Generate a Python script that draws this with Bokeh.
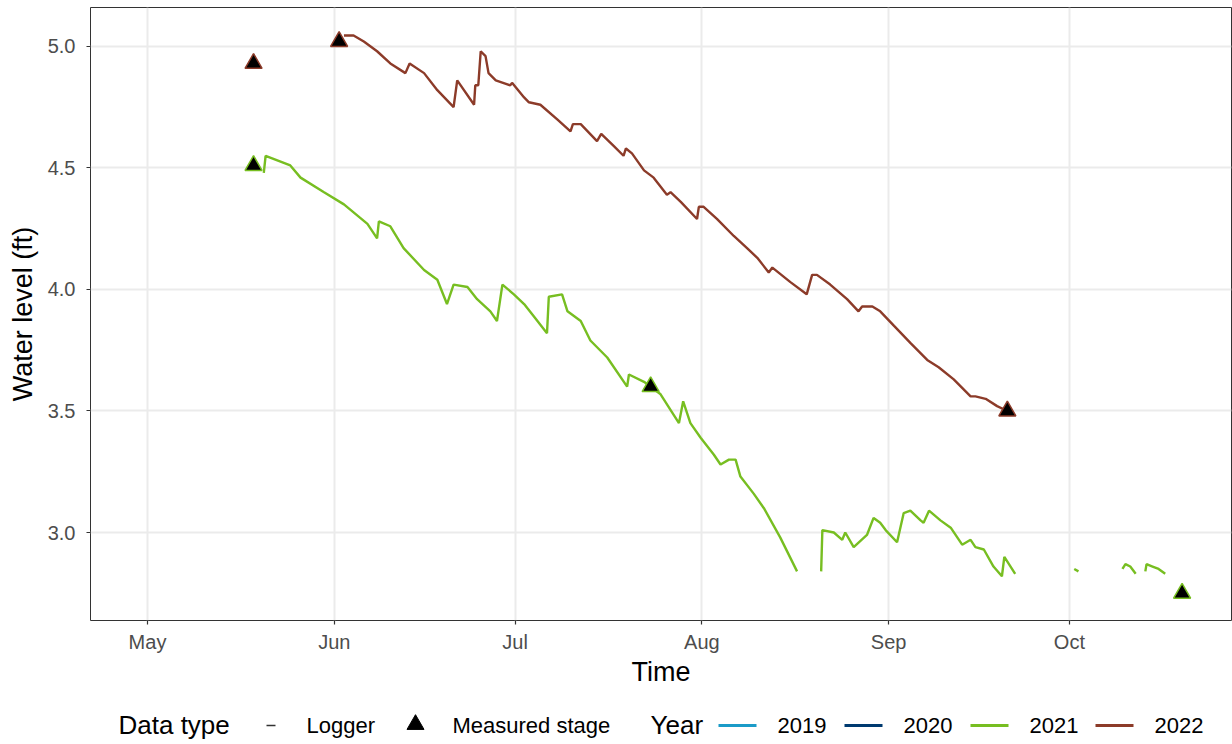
import math
import pandas as pd
from bokeh.plotting import figure
from bokeh.layouts import column
from bokeh.models import ColumnDataSource, FixedTicker, DatetimeTickFormatter, Range1d
from bokeh.core.properties import value
from bokeh.embed import file_html
from bokeh.resources import INLINE

NaN = float("nan")
BASE = pd.Timestamp("2022-05-01")  # common axis year; x = days after 1 May

# ---------------- data ----------------
logger_2021_days = [19.3, 19.6, 23.7, 25.4, 29.3, 32.6, 36.5, 38.1, 38.4, 40.3, 42.5, 45.9, 48.1, 49.7,
                    50.8, 53.1, 54.7, 56.9, 58.0, 58.9, 60.8, 62.5, 64.1, 66.3, 66.6, 68.8, 69.7, 71.9,
                    73.5, 76.3, 79.6, 79.9, 82.4, 83.5, 85.1, 88.2, 88.9, 90.1, 91.8, 94.0, 95.1, 96.5,
                    97.6, 98.4, 100.6, 102.3, 105.0, 107.8, 109.8, 111.8, 112.0, 113.9, 115.3, 115.8,
                    117.2, 119.4, 120.5, 121.6, 122.5, 124.4, 125.5, 126.6, 128.3, 128.8, 129.7, 131.6,
                    133.3, 135.2, 136.6, 137.4, 138.8, 140.4, 141.8, 142.2, 144.0, 149.0, 153.8, 154.5,
                    158.0, 161.8, 162.3, 163.1, 164.0, 164.8, 165.6, 165.8, 166.8, 167.8, 168.9]
logger_2021_level = [4.48, 4.55, 4.51, 4.46, 4.40, 4.35, 4.27, 4.21, 4.28, 4.26, 4.17, 4.08, 4.04, 3.94,
                     4.02, 4.01, 3.96, 3.91, 3.87, 4.02, 3.98, 3.94, 3.89, 3.82, 3.97, 3.98, 3.91, 3.87,
                     3.79, 3.72, 3.60, 3.65, 3.62, 3.60, 3.57, 3.45, 3.54, 3.45, 3.39, 3.32, 3.28, 3.30,
                     3.30, 3.23, 3.16, 3.10, 2.98, 2.84, NaN, 2.84, 3.01, 3.00, 2.97, 3.00,
                     2.94, 2.99, 3.06, 3.04, 3.01, 2.96, 3.08, 3.09, 3.05, 3.04, 3.09, 3.05,
                     3.02, 2.95, 2.97, 2.94, 2.93, 2.86, 2.82, 2.90, 2.83, NaN, 2.85, 2.84,
                     NaN, 2.85, 2.87, 2.86, 2.83, NaN, 2.84, 2.87, 2.86, 2.85, 2.83]

logger_2022_days = [32.6, 34.2, 35.9, 38.1, 40.3, 42.8, 43.5, 45.9, 48.1, 50.8, 51.4, 54.2, 54.4, 54.9,
                    55.3, 56.1, 56.6, 57.8, 60.2, 60.5, 62.5, 63.3, 65.2, 68.0, 70.2, 70.6, 71.9, 74.6,
                    75.3, 77.4, 79.0, 79.4, 80.4, 82.4, 84.0, 86.2, 86.8, 88.5, 91.2, 91.5, 92.3, 94.5,
                    97.3, 99.5, 101.2, 103.1, 103.7, 106.7, 109.4, 110.3, 111.1, 113.3, 116.1, 118.0,
                    118.6, 120.3, 121.6, 123.9, 126.6, 129.4, 131.3, 133.8, 136.6, 137.4, 139.1, 141.0,
                    142.7]
logger_2022_level = [5.045, 5.045, 5.02, 4.98, 4.93, 4.89, 4.93, 4.89, 4.82, 4.75, 4.86, 4.76, 4.84, 4.84,
                     4.98, 4.96, 4.89, 4.86, 4.84, 4.85, 4.79, 4.77, 4.76, 4.70, 4.65, 4.68, 4.68, 4.61,
                     4.64, 4.59, 4.55, 4.58, 4.56, 4.49, 4.46, 4.39, 4.40, 4.36, 4.29, 4.34, 4.34, 4.29,
                     4.22, 4.17, 4.13, 4.07, 4.09, 4.03, 3.98, 4.06, 4.06, 4.02, 3.96, 3.91,
                     3.93, 3.93, 3.91, 3.85, 3.78, 3.71, 3.68, 3.63, 3.56, 3.56, 3.55, 3.52,
                     3.50]

measured_2021_days = [17.6, 83.5, 171.7]
measured_2021_level = [4.51, 3.60, 2.75]
measured_2022_days = [17.6, 31.8, 142.7]
measured_2022_level = [4.93, 5.02, 3.50]

month_ticks = ["2022-05-01", "2022-06-01", "2022-07-01", "2022-08-01", "2022-09-01", "2022-10-01"]
y_ticks = [3.0, 3.5, 4.0, 4.5, 5.0]
years = ["2019", "2020", "2021", "2022"]
year_colors = ["#1B9BC8", "#003A70", "#77BE21", "#8C3B29"]

FONT = "Liberation Sans"


def to_dates(days):
    return [BASE + pd.Timedelta(days=d) for d in days]


p = figure(width=1232, height=700, x_axis_type="datetime", output_backend="svg",
           toolbar_location=None,
           x_range=Range1d(start=(BASE + pd.Timedelta(days=-9.46)).to_pydatetime(),
                           end=(BASE + pd.Timedelta(days=179.9)).to_pydatetime()),
           y_range=Range1d(2.638, 5.160),
           min_border_left=90, min_border_right=1, min_border_top=7, min_border_bottom=80)
p.background_fill_color = "white"
p.border_fill_color = "white"
p.outline_line_color = "#333333"
p.outline_line_width = 1

for ax in (p.xaxis[0], p.yaxis[0]):
    ax.axis_line_color = None
    ax.major_tick_line_color = "#333333"
    ax.major_tick_line_width = 1.2
    ax.major_tick_out = 4
    ax.major_tick_in = 0
    ax.minor_tick_line_color = None
    ax.major_label_text_font = FONT
    ax.major_label_text_font_size = "20px"
    ax.major_label_text_color = "#4D4D4D"
    ax.axis_label_text_font = FONT
    ax.axis_label_text_font_size = "27px"
    ax.axis_label_text_font_style = "normal"
    ax.axis_label_text_color = "black"

p.xaxis.ticker = FixedTicker(ticks=[pd.Timestamp(t).value / 1e6 for t in month_ticks])
p.xaxis.formatter = DatetimeTickFormatter(milliseconds="%b", seconds="%b", minsec="%b", minutes="%b",
                                          hourmin="%b", hours="%b", days="%b", months="%b", years="%b")
p.xaxis.major_label_standoff = 6
p.xaxis.axis_label = "Time"
p.xaxis.axis_label_standoff = 1

p.yaxis.ticker = FixedTicker(ticks=y_ticks)
p.yaxis.major_label_overrides = {t: f"{t:.1f}" for t in y_ticks}
p.yaxis.major_label_standoff = 11
p.yaxis.axis_label = "Water level (ft)"
p.yaxis.axis_label_standoff = 7

p.xgrid.ticker = p.xaxis[0].ticker
p.ygrid.ticker = p.yaxis[0].ticker
p.grid.grid_line_color = "#EBEBEB"
p.grid.grid_line_width = 2

src21 = ColumnDataSource(dict(t=to_dates(logger_2021_days), v=logger_2021_level))
src22 = ColumnDataSource(dict(t=to_dates(logger_2022_days), v=logger_2022_level))
p.line("t", "v", source=src21, line_color=year_colors[2], line_width=2.4)
p.line("t", "v", source=src22, line_color=year_colors[3], line_width=2.4)

m21 = ColumnDataSource(dict(t=to_dates(measured_2021_days), v=measured_2021_level))
m22 = ColumnDataSource(dict(t=to_dates(measured_2022_days), v=measured_2022_level))
p.scatter("t", "v", source=m21, marker="triangle", size=17, fill_color="black",
          line_color=year_colors[2], line_width=1.5)
p.scatter("t", "v", source=m22, marker="triangle", size=17, fill_color="black",
          line_color=year_colors[3], line_width=1.5)

# ---------------- legend strip (ggplot-style, bottom) ----------------
# x in page pixels: the strip's frame is aligned with the main frame (90..1231)
leg = figure(width=1232, height=44, output_backend="svg", toolbar_location=None,
             x_range=Range1d(90, 1231), y_range=Range1d(0, 44),
             min_border_left=90, min_border_right=1, min_border_top=0, min_border_bottom=0)
leg.axis.visible = False
leg.grid.visible = False
leg.outline_line_color = None
leg.border_fill_color = "white"
leg.background_fill_color = "white"

text_y = 19.5  # text middle
key_y = 19     # key centre


def legend_text(x, s, size):
    leg.text(x=[x], y=[text_y], text=[s], text_font=value(FONT), text_font_size=size,
             text_baseline="middle", text_align="left", text_color="black")


legend_text(118, "Data type", "26px")
leg.segment(x0=[266], y0=[key_y], x1=[275], y1=[key_y], line_color="#333333", line_width=1.3)
legend_text(306, "Logger", "22px")
leg.scatter(x=[415], y=[key_y + 1], marker="triangle", size=17, fill_color="black", line_color="black")
legend_text(452, "Measured stage", "22px")
legend_text(650, "Year", "26px")
key_x = [718, 844, 970, 1095]
for kx, yr, col in zip(key_x, years, year_colors):
    leg.segment(x0=[kx], y0=[key_y], x1=[kx + 38], y1=[key_y], line_color=col, line_width=3)
    legend_text(kx + 59, yr, "22px")

layout = column(p, leg, spacing=0)
open("out.html", "w").write(file_html(layout, INLINE))
